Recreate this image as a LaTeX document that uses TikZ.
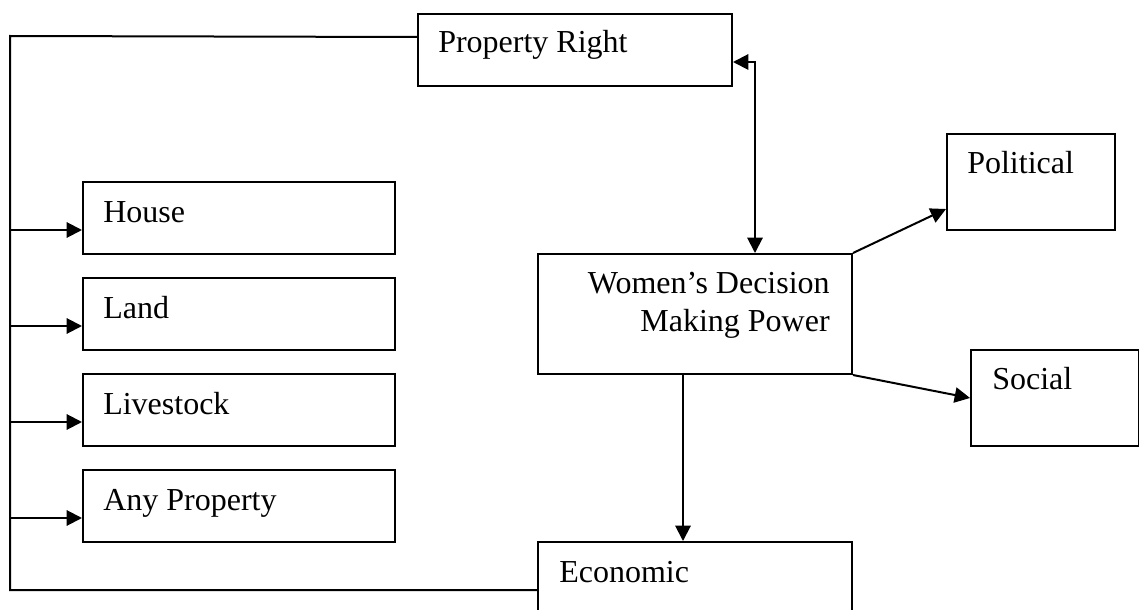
\documentclass[tikz,border=0pt]{standalone}
\usepackage{fontspec}
\setmainfont{Liberation Serif}
\usetikzlibrary{arrows.meta,calc}

\tikzset{
  box/.style={draw, line width=1.5pt, anchor=north west, inner sep=0pt},
  lbl/.style={anchor=base west, inner sep=0pt},
  link/.style={line width=1.5pt},
  arr/.style={link, -{Triangle[length=11.5pt,width=11.5pt]}},
  dbl/.style={link, {Triangle[length=11.5pt,width=11.5pt]}-{Triangle[length=11.5pt,width=11.5pt]}}
}

\begin{document}
\begin{tikzpicture}[x=0.75pt, y=-0.75pt, font=\fontsize{24}{28.5}\selectfont]

\path[use as bounding box, clip] (0,0) rectangle (1139,610);

% the boxes
\node[box, minimum width=235.5pt, minimum height=54pt] (prop) at (417,13) {};
\node[lbl] (prop-t) at ([shift={(21,40)}]prop.north west) {Property Right};

\foreach \n/\t [count=\i from 0] in {house/House, land/Land, stock/Livestock, anyprop/Any Property} {
  \node[box, minimum width=234pt, minimum height=54pt] (\n) at (82,181+96*\i) {};
  \node[lbl] (\n-t) at ([shift={(21,41)}]\n.north west) {\t};
}

\node[box, minimum width=235.5pt, minimum height=90pt] (wdm) at (537,253) {};
\node[anchor=base east, align=right, inner sep=0pt] (wdm-t)
  at ([shift={(-23,78)}]wdm.north east) {Women’s Decision\\Making Power};

\node[box, minimum width=126pt, minimum height=72pt] (pol) at (946,133) {};
\node[lbl] (pol-t) at ([shift={(21,40)}]pol.north west) {Political};

\node[box, minimum width=126pt, minimum height=72pt] (soc) at (970,349) {};
\node[lbl] (soc-t) at ([shift={(22,40)}]soc.north west) {Social};

\node[box, minimum width=235.5pt, minimum height=72pt] (econ) at (537,541) {};
\node[lbl] (econ-t) at ([shift={(22,41)}]econ.north west) {Economic};

% the trunk on the left
\coordinate (trunk) at (10,36);
\draw[link] ([yshift=9.75pt]prop.west) -- (trunk) -- (trunk |- econ.west) -- (econ.west);

\foreach \n in {house,land,stock,anyprop}
  \draw[arr] ([yshift=-9pt]\n.west -| trunk) -- ([yshift=-9pt]\n.west);

% links of the decision box
\draw[dbl] ([yshift=-9pt]prop.east) -| ([xshift=45pt]wdm.north);
\draw[arr] ([xshift=-9pt]wdm.south) -- ([xshift=-9pt]wdm.south |- econ.north);
\draw[arr] (wdm.north east) -- ([yshift=16.5pt]pol.south west);
\draw[arr] (wdm.south east) -- (soc.west);

\end{tikzpicture}
\end{document}
